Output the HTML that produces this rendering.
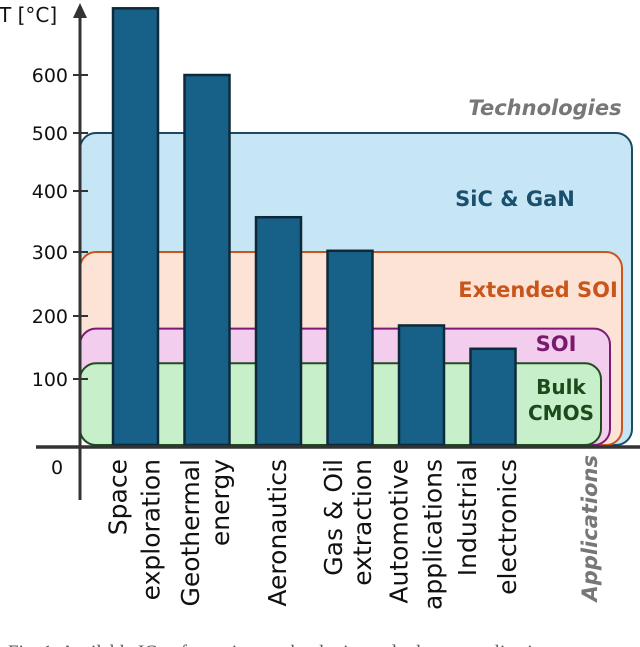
<!DOCTYPE html>
<html><head><meta charset="utf-8"><style>
html,body{margin:0;padding:0;background:#fff;}
svg{display:block;font-family:"DejaVu Sans","Liberation Sans",sans-serif;}
</style></head><body>
<svg id="chart" width="640" height="647" viewBox="0 0 640 647">
<g id="regions"></g>
<g id="bars"></g>
<g id="axes"></g>
<g id="labels"></g>
</svg>
<script>
const categories = [["Space","exploration"],["Geothermal","energy"],["Aeronautics"],["Gas & Oil","extraction"],["Automotive","applications"],["Industrial","electronics"]];
const values = [715, 600, 357, 302, 185, 148];
const tickValues = [100, 200, 300, 400, 500, 600];
const techNames = ["SiC & GaN", "Extended SOI", "SOI", "Bulk CMOS"];
const techMax = [500, 300, 180, 125];

const NS = "http://www.w3.org/2000/svg";
const tv = [0,100,200,300,400,500,600,700];
const tp = [447,379,316,252,191,133,75,17];
function yScale(v){
  for(let i=0;i<tv.length-1;i++){
    if(v<=tv[i+1]||i===tv.length-2){
      return tp[i]+(v-tv[i])*(tp[i+1]-tp[i])/(tv[i+1]-tv[i]);
    }
  }
}
function xScale(i){ return 135.5 + i*71.5; }
function mk(tag, attrs, parent, text){
  const e=document.createElementNS(NS,tag);
  for(const k in attrs) e.setAttribute(k,attrs[k]);
  if(text!==undefined) e.textContent=text;
  parent.appendChild(e); return e;
}
const regions=document.getElementById('regions');
const fills=["#c6e6f5","#fde3d6","#f2cdee","#c7f0ca"];
const strokes=["#1b4a66","#c8561b","#7d1a73","#1e4d20"];
const rights=[632,622,610,601];
const txtCol=["#1b4f6e","#c8561b","#7a1a6e","#1c4a1c"];
techMax.forEach((m,i)=>{
  const y=yScale(m);
  const r=mk('rect',{x:80,y:y,width:rights[i]-80,height:445-y,rx:16,ry:16,fill:fills[i],stroke:strokes[i],'stroke-width':2},regions);
  
  
});
const lab=document.getElementById('labels');
const tl=[[515,206],[538,297],[556,351],[561,393]];
techNames.forEach((n,i)=>{
  if(n==="Bulk CMOS"){
    let t=mk('text',{x:561,y:394,'text-anchor':'middle','font-size':20,'font-weight':'bold',fill:txtCol[i]},lab,"Bulk");
    
    let t2=mk('text',{x:561,y:420,'text-anchor':'middle','font-size':20,'font-weight':'bold',fill:txtCol[i]},lab,"CMOS");
    
  } else {
    let t=mk('text',{x:tl[i][0],y:tl[i][1],'text-anchor':'middle','font-size':21,'font-weight':'bold',fill:txtCol[i]},lab,n);
    
  }
});
const bars=document.getElementById('bars');
values.forEach((v,i)=>{
  const y=yScale(v);
  const b=mk('rect',{x:xScale(i)-22.5,y:y,width:45,height:445-y,fill:"#176087",stroke:"#0e2a3a",'stroke-width':2.5},bars);
  
  
});
const ax=document.getElementById('axes');
mk('line',{x1:80,y1:500,x2:80,y2:12,stroke:"#333",'stroke-width':3},ax);
mk('polygon',{points:"73,18 80,3 87,18",fill:"#333"},ax);
mk('line',{x1:36,y1:447,x2:640,y2:447,stroke:"#333",'stroke-width':3.5},ax);
tickValues.forEach(t=>{
  const y=yScale(t);
  mk('line',{x1:73,y1:y,x2:88,y2:y,stroke:"#333",'stroke-width':2},ax);
  const e=mk('text',{x:68,y:y+7,'text-anchor':'end','font-size':19,fill:"#111"},ax,String(t));
  
  
});
let z=mk('text',{x:57,y:474,'text-anchor':'middle','font-size':19,fill:"#111"},ax,"0");

let yt=mk('text',{x:-1,y:22,'font-size':20,fill:"#111"},ax,"T [°C]");

let tt=mk('text',{x:545,y:115,'text-anchor':'middle','font-size':21,'font-weight':'bold','font-style':'italic',fill:"#777"},ax,"Technologies");

const off=[[-18,15],[-17,13],[-1.5],[-17,12],[-23,11],[-26,14]];
categories.forEach((lines,i)=>{
  const cx=xScale(i);
  lines.forEach((s,j)=>{
    const x = cx+off[i][j]+9;
    const t=mk('text',{x:x,y:459,transform:`rotate(-90 ${x} 459)`,'text-anchor':'end','font-size':25,fill:"#111"},lab,s);
    
    
  });
});
let at=mk('text',{x:597,y:455,transform:'rotate(-90 597 455)','text-anchor':'end','font-size':21,'font-weight':'bold','font-style':'italic',fill:"#777"},lab,"Applications");

let cap=mk('text',{x:8,y:658,'font-size':19,fill:"#555",'font-family':'Liberation Serif, serif'},lab,"Fig. 1.   Available IC ... for various technologies and relevant applications");

</script>
</body></html>
